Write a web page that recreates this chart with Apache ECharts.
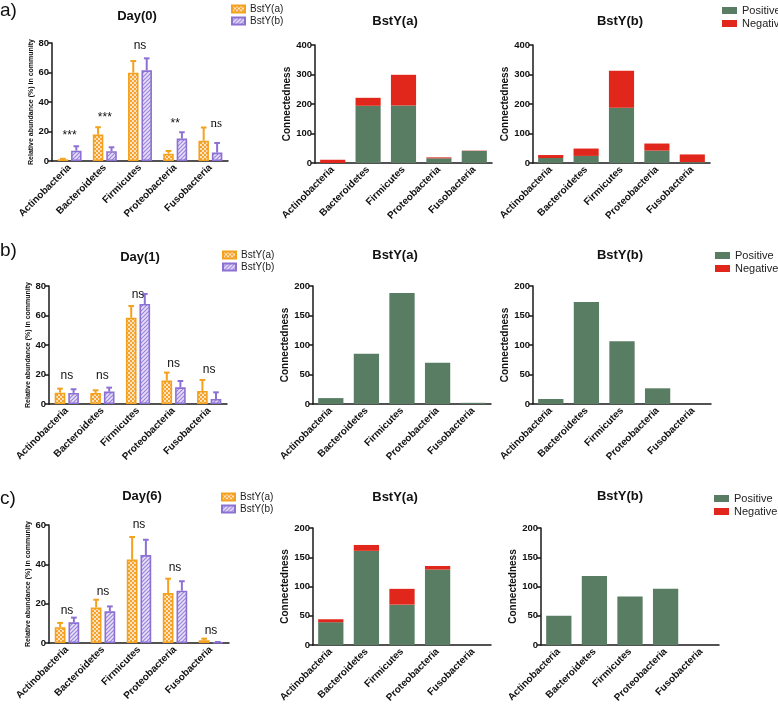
<!DOCTYPE html>
<html>
<head>
<meta charset="utf-8">
<script src="https://cdn.jsdelivr.net/npm/echarts@6/dist/echarts.min.js"></script>
<style>html,body{margin:0;padding:0;background:#fff}#c{width:778px;height:706px}</style>
</head>
<body>
<div id="c"></div>
<script>
// ---------------- DATA ----------------
const categories = ['Actinobacteria', 'Bacteroidetes', 'Firmicutes', 'Proteobacteria', 'Fusobacteria'];

// Relative abundance (%) — mean and upper error
const day0A = [1.1, 17.9, 59.9, 5.0, 13.8];
const day0AErr = [0.4, 5.0, 7.9, 1.8, 8.9];
const day0B = [7.0, 6.6, 61.5, 15.2, 5.7];
const day0BErr = [3.0, 2.7, 8.1, 4.3, 6.5];
const day0Sig = ['***', '***', 'ns', '**', 'ns'];
const day0SigY = [19.0, 31.2, 78.0, 27.1, 25.1];

const day1A = [7.7, 7.5, 58.5, 15.9, 8.8];
const day1AErr = [2.7, 1.8, 7.9, 5.4, 7.5];
const day1B = [7.5, 8.4, 67.8, 11.3, 3.4];
const day1BErr = [2.5, 2.7, 6.8, 4.3, 4.5];
const day1Sig = ['ns', 'ns', 'ns', 'ns', 'ns'];
const day1SigY = [19.5, 19.5, 73.9, 27.0, 23.6];

const day6A = [8.0, 18.1, 42.4, 25.4, 1.4];
const day6AErr = [2.2, 3.9, 11.5, 7.3, 0.8];
const day6B = [10.5, 16.1, 44.7, 26.6, 0.3];
const day6BErr = [2.4, 2.5, 7.8, 4.8, 0.2];
const day6Sig = ['ns', 'ns', 'ns', 'ns', 'ns'];
const day6SigY = [16.3, 25.9, 60.0, 38.1, 6.1];

// Connectedness (positive / negative)
const conn0APos = [0, 194, 195, 16, 41];
const conn0ANeg = [11, 27, 104, 3, 1];
const conn0BPos = [17, 24, 187, 42, 3];
const conn0BNeg = [10, 25, 126, 24, 26];

const conn1APos = [10, 85, 188, 70, 2];
const conn1ANeg = [0, 0, 0, 0, 0];
const conn1BPos = [8.5, 173, 106.5, 26.6, 0];
const conn1BNeg = [0, 0, 0, 0, 0];

const conn6APos = [39, 161, 69, 129, 0];
const conn6ANeg = [5, 10, 27, 6, 0];
const conn6BPos = [50, 118, 83, 96, 0];
const conn6BNeg = [0, 0, 0, 0, 0];

// Axis ranges / tick steps
const abundMax = [80, 80, 60];
const abundStep = 20;
const connMax = [400, 200, 200];
const connStep = [100, 50, 50];
const dayTitles = ['Day(0)', 'Day(1)', 'Day(6)'];
const panelLetters = ['a)', 'b)', 'c)'];

// ---------------- STYLE / LAYOUT ----------------
const FONT = '"Liberation Sans", Arial, sans-serif';
const ORANGE = '#F4A11E';
const PURPLE = '#8D70D4';
const GREEN = '#597D63';
const RED = '#E1271B';
const AXIS = '#1a1a1a';

function makeChecker() {
  const c = document.createElement('canvas'); c.width = 4; c.height = 4;
  const x = c.getContext('2d');
  x.fillStyle = '#F5A230'; x.fillRect(0, 0, 4, 4);
  x.fillStyle = '#FDE4BE'; x.fillRect(0, 0, 2, 2); x.fillRect(2, 2, 2, 2);
  return c;
}
function makeHatch() {
  const c = document.createElement('canvas'); c.width = 4; c.height = 4;
  const x = c.getContext('2d');
  x.fillStyle = '#E7E1F8'; x.fillRect(0, 0, 4, 4);
  x.strokeStyle = '#9A84DC'; x.lineWidth = 1.2;
  x.beginPath();
  x.moveTo(0, 4); x.lineTo(4, 0);
  x.moveTo(-1, 1); x.lineTo(1, -1);
  x.moveTo(3, 5); x.lineTo(5, 3);
  x.stroke();
  return c;
}
const checker = { image: makeChecker(), repeat: 'repeat' };
const hatch = { image: makeHatch(), repeat: 'repeat' };

const rows = [
  {
    left: { left: 52, top: 43, width: 176, height: 118, nameGap: 17 },
    mid: { left: 315, top: 45, width: 177, height: 118, nameGap: 20 },
    right: { left: 533, top: 45, width: 177, height: 118, nameGap: 13 },
    titles: [[137, 18], [395, 23], [620, 23]], letterY: 1,
    legL: [231, 4], legR: [722, 5]
  },
  {
    left: { left: 49, top: 286, width: 178, height: 118, nameGap: 15 },
    mid: { left: 313, top: 286, width: 178, height: 118, nameGap: 19 },
    right: { left: 533, top: 286, width: 178, height: 118, nameGap: 20 },
    titles: [[140, 259], [395, 257], [620, 257]], letterY: 241,
    legL: [222, 250], legR: [715, 250]
  },
  {
    left: { left: 49, top: 525, width: 180, height: 118, nameGap: 15 },
    mid: { left: 313, top: 528, width: 178, height: 117, nameGap: 19 },
    right: { left: 541, top: 528, width: 178, height: 117, nameGap: 22 },
    titles: [[142, 498], [395, 499], [620, 498]], letterY: 489,
    legL: [221, 492], legR: [714, 493]
  }
];

const abund = [
  [day0A, day0AErr, day0B, day0BErr, day0Sig, day0SigY],
  [day1A, day1AErr, day1B, day1BErr, day1Sig, day1SigY],
  [day6A, day6AErr, day6B, day6BErr, day6Sig, day6SigY]
];
const conn = [
  [[conn0APos, conn0ANeg], [conn0BPos, conn0BNeg]],
  [[conn1APos, conn1ANeg], [conn1BPos, conn1BNeg]],
  [[conn6APos, conn6ANeg], [conn6BPos, conn6BNeg]]
];

const grids = [], xAxes = [], yAxes = [], series = [], titles = [], legends = [];

function addAxes(g, max, step, name, nameGap, nameSize) {
  const idx = grids.length;
  grids.push({ left: g.left, top: g.top, width: g.width, height: g.height, containLabel: false });
  xAxes.push({
    type: 'category', gridIndex: idx, data: categories,
    axisLine: { lineStyle: { color: AXIS, width: 1.5 } },
    axisTick: { alignWithLabel: true, length: 4, lineStyle: { color: AXIS, width: 1.5 } },
    axisLabel: { rotate: 45, interval: 0, fontSize: 10, fontWeight: 'bold', color: '#111', fontFamily: FONT, margin: 5 }
  });
  yAxes.push({
    type: 'value', gridIndex: idx, min: 0, max: max, interval: step,
    axisLine: { show: true, lineStyle: { color: AXIS, width: 1.5 } },
    axisTick: { show: true, length: 4, lineStyle: { color: AXIS, width: 1.5 } },
    axisLabel: { fontSize: 9.5, fontWeight: 'bold', color: '#111', fontFamily: FONT, margin: 3 },
    splitLine: { show: false },
    name: name, nameLocation: 'middle', nameGap: nameGap, nameRotate: 90,
    nameTextStyle: { fontSize: nameSize, fontWeight: 'bold', color: '#111', fontFamily: FONT }
  });
  return idx;
}

function errRender(side, color) {
  return function (params, api) {
    const i = api.value(0), v = api.value(1), e = api.value(2);
    const band = api.size([1, 0])[0];
    const p0 = api.coord([i, v]);
    const p1 = api.coord([i, v + e]);
    const x = p0[0] + side * 0.1909 * band;
    const cw = band * 0.16;
    return {
      type: 'group',
      children: [
        { type: 'line', shape: { x1: x, y1: p0[1], x2: x, y2: p1[1] }, style: { stroke: color, lineWidth: 2 } },
        { type: 'line', shape: { x1: x - cw / 2, y1: p1[1], x2: x + cw / 2, y2: p1[1] }, style: { stroke: color, lineWidth: 2 } }
      ]
    };
  };
}

function sigRender(sig, serifIndex) {
  return function (params, api) {
    const i = api.value(0), y = api.value(1);
    const p = api.coord([i, y]);
    const s = sig[params.dataIndex];
    const isStar = s.indexOf('*') >= 0;
    const serif = params.dataIndex === serifIndex;
    return {
      type: 'text',
      x: p[0] + (serif ? 6 : 0),
      y: p[1] + (isStar ? 3 : 0),
      style: {
        text: s,
        fill: '#111',
        font: serif ? '13px "Liberation Serif", serif' : '12px "Liberation Sans", Arial, sans-serif',
        align: 'center', verticalAlign: 'middle',
        textAlign: 'center', textVerticalAlign: 'middle'
      }
    };
  };
}

rows.forEach(function (r, ri) {
  // ---- abundance panel
  const [A, AE, B, BE, sig, sigY] = abund[ri];
  const gi = addAxes(r.left, abundMax[ri], abundStep, 'Relative abundance (%) in community', r.left.nameGap, 7);
  series.push({
    type: 'bar', name: 'BstY(a)', xAxisIndex: gi, yAxisIndex: gi, data: A,
    barGap: '28%', barCategoryGap: '32%',
    itemStyle: { color: checker, borderColor: ORANGE, borderWidth: 1.6 }
  });
  series.push({
    type: 'bar', name: 'BstY(b)', xAxisIndex: gi, yAxisIndex: gi, data: B,
    barGap: '28%', barCategoryGap: '32%',
    itemStyle: { color: hatch, borderColor: PURPLE, borderWidth: 1.6 }
  });
  series.push({
    type: 'custom', xAxisIndex: gi, yAxisIndex: gi, renderItem: errRender(-1, ORANGE),
    encode: { x: 0, y: 1 }, data: A.map(function (v, i) { return [i, v, AE[i]]; }), z: 3
  });
  series.push({
    type: 'custom', xAxisIndex: gi, yAxisIndex: gi, renderItem: errRender(1, PURPLE),
    encode: { x: 0, y: 1 }, data: B.map(function (v, i) { return [i, v, BE[i]]; }), z: 3
  });
  series.push({
    type: 'custom', xAxisIndex: gi, yAxisIndex: gi, silent: true, clip: false,
    renderItem: sigRender(sig, ri === 0 ? 4 : -1),
    encode: { x: 0, y: 1 }, data: sigY.map(function (y, i) { return [i, y]; }), z: 4
  });

  // ---- connectedness panels
  ['mid', 'right'].forEach(function (key, k) {
    const g = r[key];
    const idx = addAxes(g, connMax[ri], connStep[ri], 'Connectedness', g.nameGap, 10);
    const [pos, neg] = conn[ri][k];
    series.push({
      type: 'bar', name: 'Positive', stack: 'st' + idx, xAxisIndex: idx, yAxisIndex: idx, data: pos,
      barCategoryGap: '29%', itemStyle: { color: GREEN }
    });
    series.push({
      type: 'bar', name: 'Negative', stack: 'st' + idx, xAxisIndex: idx, yAxisIndex: idx, data: neg,
      barCategoryGap: '29%', itemStyle: { color: RED }
    });
  });

  // ---- titles
  const tnames = [dayTitles[ri], 'BstY(a)', 'BstY(b)'];
  r.titles.forEach(function (t, k) {
    titles.push({
      text: tnames[k], left: t[0], top: t[1] - 8, textAlign: 'center', padding: 0,
      textStyle: { fontSize: 13, fontWeight: 'bold', color: '#111', fontFamily: FONT }
    });
  });
  titles.push({
    text: panelLetters[ri], left: 0, top: r.letterY, padding: 0,
    textStyle: { fontSize: 19, fontWeight: 'normal', color: '#111', fontFamily: FONT }
  });

  // ---- legends
  legends.push({
    data: ['BstY(a)', 'BstY(b)'], orient: 'vertical', left: r.legL[0], top: r.legL[1],
    itemWidth: 13, itemHeight: 7, itemGap: 2, padding: 0, icon: 'rect', selectedMode: false,
    textStyle: { fontSize: 10, color: '#222', fontFamily: FONT }
  });
  legends.push({
    data: ['Positive', 'Negative'], orient: 'vertical', left: r.legR[0], top: r.legR[1],
    itemWidth: 15, itemHeight: 7, itemGap: 2, padding: 0, icon: 'rect', selectedMode: false,
    textStyle: { fontSize: 11, color: '#222', fontFamily: FONT }
  });
});

const chart = echarts.init(document.getElementById('c'), null, { renderer: 'canvas' });
chart.setOption({
  animation: false,
  backgroundColor: '#fff',
  title: titles,
  legend: legends,
  grid: grids,
  xAxis: xAxes,
  yAxis: yAxes,
  series: series
});
</script>
</body>
</html>
